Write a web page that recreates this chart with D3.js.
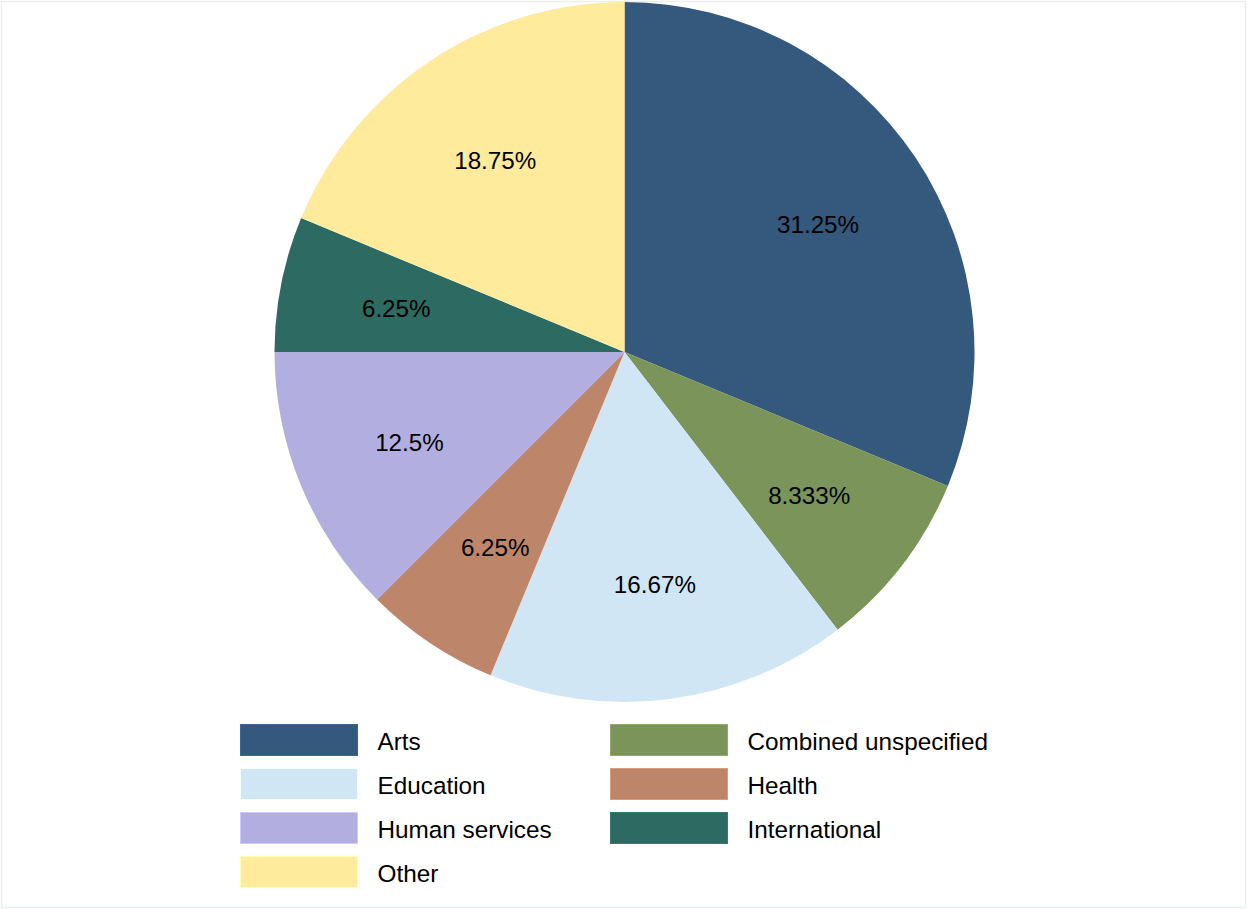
<!DOCTYPE html>
<html>
<head>
<meta charset="utf-8">
<script src="https://cdn.jsdelivr.net/npm/d3@7/dist/d3.min.js"></script>
<style>
  html, body { margin: 0; padding: 0; background: #ffffff; }
  svg { display: block; font-family: "Liberation Sans", Arial, Helvetica, sans-serif; }
</style>
</head>
<body>
<svg id="chart" width="1247" height="909"></svg>
<script>
// Share of funding by sector (percent)
const categories = ["Arts", "Combined unspecified", "Education", "Health", "Human services", "International", "Other"];
const shares = [31.25, 8.333, 16.67, 6.25, 12.5, 6.25, 18.75];
const sliceLabels = ["31.25%", "8.333%", "16.67%", "6.25%", "12.5%", "6.25%", "18.75%"];
const colors = ["#34597d", "#7a9459", "#d0e6f5", "#bd866b", "#b3aee0", "#2d6b62", "#ffeb9b"];

const svg = d3.select("#chart");
const W = 1247, H = 909;

// faint frame around the figure
svg.append("rect")
  .attr("x", 1.5).attr("y", 1.5)
  .attr("width", W - 3).attr("height", H - 3)
  .attr("fill", "#ffffff")
  .attr("stroke", "#e9efec")
  .attr("stroke-width", 1.5);

const cx = 624.5, cy = 352, R = 350;
const data = categories.map((c, i) => ({ cat: c, value: shares[i], label: sliceLabels[i] }));

const color = d3.scaleOrdinal().domain(categories).range(colors);

const pie = d3.pie().value(d => d.value).sort(null);
const arc = d3.arc().innerRadius(0).outerRadius(R);
const labelArc = d3.arc().innerRadius(R * 0.665).outerRadius(R * 0.665);

const g = svg.append("g").attr("transform", `translate(${cx},${cy})`);
const arcs = pie(data);

g.selectAll("path.slice")
  .data(arcs)
  .join("path")
  .attr("class", "slice")
  .attr("d", arc)
  .attr("fill", d => color(d.data.cat));

g.selectAll("text.pct")
  .data(arcs)
  .join("text")
  .attr("class", "pct")
  .attr("transform", d => `translate(${labelArc.centroid(d)})`)
  .attr("text-anchor", "middle")
  .attr("dy", "0.42em")
  .attr("font-size", 24.2)
  .attr("fill", "#000")
  .text(d => d.data.label);

// legend: two columns, filled row by row
const legend = svg.append("g");
const colX = d3.scaleOrdinal().domain([0, 1]).range([240, 610]);
const rowY = d3.scaleLinear().domain([0, 1]).range([724, 768]);
const sw = 117, sh = 31;

const items = legend.selectAll("g.item")
  .data(categories)
  .join("g")
  .attr("class", "item")
  .attr("transform", (d, i) => `translate(${colX(i % 2)},${rowY(Math.floor(i / 2))})`);

items.append("rect")
  .attr("x", 0.5).attr("y", 0.5)
  .attr("width", sw).attr("height", sh)
  .attr("fill", d => color(d))
  .attr("stroke", d => d3.color(color(d)).brighter(0.4))
  .attr("stroke-width", 1);

items.append("text")
  .attr("x", 137.5)
  .attr("y", sh / 2 + 1)
  .attr("dy", "0.38em")
  .attr("font-size", 24.3)
  .attr("fill", "#000")
  .text(d => d);
</script>
</body>
</html>
